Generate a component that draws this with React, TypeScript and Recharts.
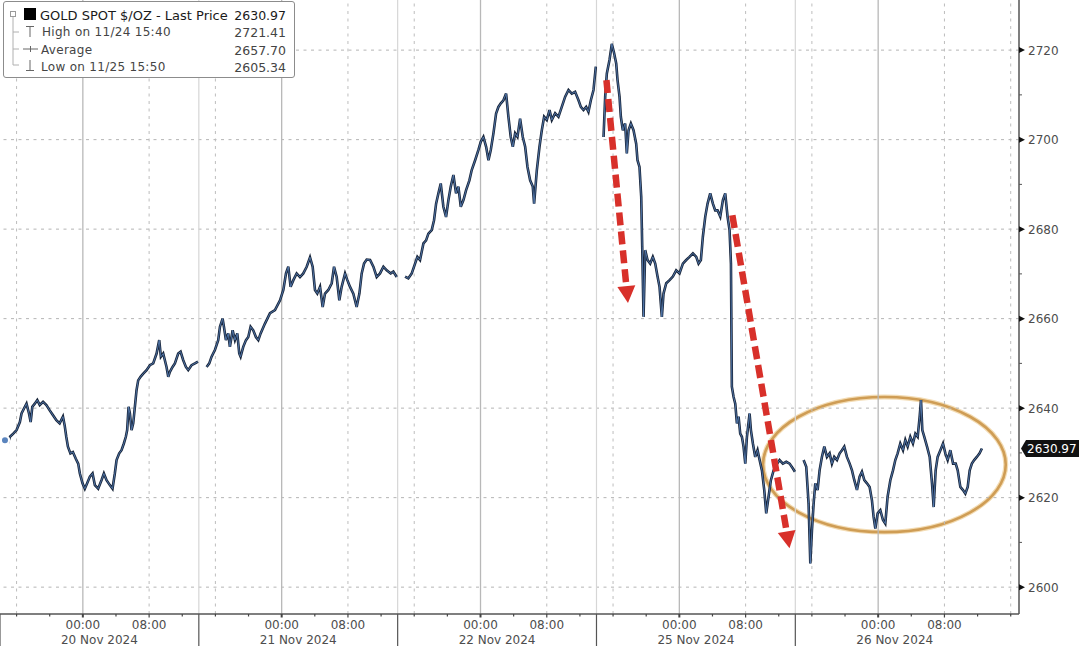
import React from 'react';
import { ComposedChart, Line, XAxis, YAxis, ReferenceLine, ReferenceArea, ReferenceDot } from 'recharts';

// ---- data: [hours from 20 Nov 00:00 on a trading-time axis (weekend removed), price] ----
const session20Nov: [number, number][] = [
  [-9.4, 2632.8], [-9.0, 2632.5], [-8.8, 2633.6], [-8.4, 2634.3], [-8.0, 2635.1], [-7.6, 2636.9],
  [-7.4, 2638.8], [-7.0, 2640.3], [-6.8, 2641.0], [-6.5, 2638.8], [-6.3, 2636.9], [-6.1, 2640.3],
  [-5.8, 2641.0], [-5.5, 2641.8], [-5.2, 2640.7], [-4.8, 2641.4], [-4.4, 2640.7], [-4.0, 2639.5],
  [-3.6, 2638.4], [-3.2, 2637.3], [-2.8, 2636.6], [-2.4, 2638.1], [-2.2, 2636.2], [-2.0, 2633.6],
  [-1.8, 2631.4], [-1.5, 2629.9], [-1.2, 2630.2], [-0.85, 2628.7], [-0.56, 2627.6], [-0.36, 2625.4],
  [-0.04, 2623.2], [0.24, 2622.0], [0.52, 2623.2], [0.85, 2624.7], [1.17, 2625.4], [1.45, 2622.8],
  [1.85, 2622.0], [2.25, 2623.9], [2.54, 2625.4], [2.86, 2623.9], [3.26, 2622.8], [3.58, 2622.0],
  [3.86, 2625.4], [4.07, 2628.4], [4.39, 2629.9], [4.67, 2630.6], [4.95, 2632.1], [5.19, 2633.6],
  [5.35, 2635.1], [5.52, 2640.3], [5.68, 2638.8], [5.88, 2635.1], [6.08, 2636.6], [6.28, 2640.3],
  [6.48, 2644.0], [6.68, 2646.2], [6.96, 2647.0], [7.29, 2647.7], [7.69, 2648.5], [8.09, 2649.6],
  [8.49, 2650.0], [8.9, 2652.2], [9.22, 2655.2], [9.42, 2651.5], [9.7, 2652.2], [10.1, 2649.2],
  [10.31, 2647.0], [10.51, 2648.1], [10.83, 2649.2], [11.11, 2650.0], [11.51, 2652.2], [11.8, 2652.6],
  [12.12, 2650.7], [12.44, 2649.2], [12.72, 2648.5], [13.12, 2649.6], [13.53, 2650.0], [13.9, 2650.4],
];
const session21Nov: [number, number][] = [
  [14.94, 2649.2], [15.26, 2650.0], [15.54, 2651.5], [15.94, 2653.0], [16.34, 2655.2], [16.55, 2658.2],
  [16.87, 2660.0], [17.03, 2658.2], [17.27, 2655.2], [17.55, 2656.7], [17.75, 2653.7], [18.08, 2657.4],
  [18.36, 2655.2], [18.64, 2656.7], [18.88, 2652.2], [19.04, 2651.5], [19.36, 2653.7], [19.69, 2655.2],
  [19.97, 2655.9], [20.25, 2658.2], [20.57, 2657.4], [20.89, 2655.9], [21.18, 2655.2], [21.46, 2656.7],
  [21.98, 2658.9], [22.59, 2661.2], [23.19, 2661.9], [23.8, 2664.1], [24.2, 2666.4], [24.52, 2670.1],
  [24.8, 2671.6], [25.08, 2667.1], [25.41, 2668.6], [25.81, 2670.1], [26.21, 2669.3], [26.61, 2670.1],
  [27.02, 2671.6], [27.42, 2673.7], [27.74, 2671.6], [28.02, 2666.4], [28.3, 2665.6], [28.63, 2667.1],
  [28.95, 2662.6], [29.23, 2665.6], [29.63, 2666.4], [30.04, 2667.9], [30.32, 2671.6], [30.64, 2669.3],
  [30.96, 2664.1], [31.24, 2667.1], [31.65, 2670.1], [31.93, 2668.6], [32.25, 2667.1], [32.65, 2665.6],
  [33.05, 2662.6], [33.38, 2665.6], [33.66, 2670.1], [33.94, 2672.3], [34.26, 2673.2], [34.67, 2673.1],
  [35.07, 2671.6], [35.47, 2669.3], [35.87, 2670.1], [36.28, 2671.6], [36.68, 2670.8], [37.16, 2670.1],
  [37.48, 2670.5], [37.89, 2669.3],
];
const session22Nov: [number, number][] = [
  [38.89, 2669.4], [39.29, 2669.0], [39.7, 2670.1], [40.1, 2672.3], [40.38, 2673.8], [40.7, 2673.1],
  [41.11, 2676.8], [41.43, 2677.5], [41.71, 2679.0], [42.11, 2679.8], [42.39, 2682.0], [42.64, 2685.7],
  [42.92, 2688.0], [43.2, 2690.2], [43.52, 2685.0], [43.84, 2682.7], [44.13, 2686.5], [44.41, 2689.5],
  [44.73, 2692.1], [45.05, 2688.0], [45.33, 2689.5], [45.62, 2685.0], [45.94, 2686.5], [46.26, 2688.7],
  [46.66, 2690.9], [46.94, 2693.2], [47.35, 2695.4], [47.75, 2697.7], [48.03, 2699.5], [48.35, 2700.6],
  [48.68, 2698.4], [48.96, 2695.4], [49.24, 2697.7], [49.56, 2701.4], [49.88, 2705.8], [50.16, 2707.3],
  [50.45, 2708.1], [50.77, 2708.8], [51.09, 2710.3], [51.37, 2705.1], [51.65, 2700.6], [51.9, 2698.4],
  [52.18, 2701.4], [52.46, 2700.6], [52.78, 2704.7], [53.1, 2700.6], [53.39, 2698.4], [53.67, 2693.9],
  [53.99, 2690.9], [54.31, 2689.5], [54.47, 2685.7], [54.8, 2693.2], [55.12, 2698.4], [55.4, 2702.1],
  [55.68, 2705.1], [56.0, 2704.4], [56.33, 2706.6], [56.61, 2704.4], [57.01, 2705.9], [57.41, 2705.1],
  [57.81, 2707.3], [58.22, 2709.6], [58.62, 2711.1], [59.02, 2710.3], [59.42, 2710.7], [59.83, 2708.8],
  [60.11, 2707.3], [60.43, 2706.6], [60.75, 2707.3], [61.03, 2706.2], [61.32, 2708.8], [61.64, 2711.1],
  [61.92, 2716.3],
];
const session25Nov: [number, number][] = [
  [62.85, 2700.6], [63.05, 2709.6], [63.25, 2714.8], [63.57, 2717.8], [63.85, 2721.4], [64.13, 2719.3],
  [64.38, 2717.0], [64.54, 2713.3], [64.78, 2709.6], [64.94, 2705.1], [65.18, 2702.1], [65.46, 2703.6],
  [65.66, 2696.9], [65.87, 2702.1], [66.15, 2703.6], [66.47, 2702.1], [66.79, 2699.1], [66.95, 2695.4],
  [67.19, 2693.9], [67.4, 2687.2], [67.52, 2676.1], [67.68, 2660.4], [67.88, 2675.3], [68.16, 2673.1],
  [68.48, 2672.3], [68.8, 2673.8], [69.09, 2672.3], [69.37, 2669.4], [69.61, 2667.1], [69.89, 2660.4],
  [70.09, 2665.6], [70.42, 2667.9], [70.82, 2668.6], [71.22, 2669.4], [71.62, 2670.8], [72.02, 2670.1],
  [72.43, 2672.3], [72.83, 2673.1], [73.23, 2673.8], [73.64, 2674.6], [74.04, 2673.8], [74.32, 2672.3],
  [74.6, 2673.1], [74.84, 2678.3], [75.13, 2682.8], [75.41, 2685.7], [75.73, 2688.0], [76.05, 2685.7],
  [76.33, 2684.2], [76.61, 2684.2], [76.94, 2682.8], [77.26, 2686.5], [77.54, 2688.0], [77.82, 2682.8],
  [78.06, 2679.8], [78.23, 2672.3], [78.34, 2644.8], [78.55, 2642.5], [78.75, 2641.0], [78.95, 2636.6],
  [79.15, 2638.1], [79.35, 2634.3], [79.55, 2633.6], [79.75, 2631.4], [79.96, 2627.6], [80.16, 2633.6],
  [80.48, 2638.8], [80.64, 2635.1], [80.88, 2632.1], [81.16, 2629.1], [81.44, 2630.6], [81.69, 2628.4],
  [81.97, 2626.1], [82.25, 2621.7], [82.49, 2616.5], [82.77, 2620.2], [83.05, 2623.9], [83.38, 2626.1],
  [83.7, 2627.3], [84.1, 2628.4], [84.5, 2627.6], [84.91, 2628.0], [85.31, 2627.6], [85.71, 2626.5],
  [85.95, 2625.8],
];
const session26Nov: [number, number][] = [
  [87.0, 2628.4], [87.32, 2626.9], [87.6, 2618.7], [87.81, 2605.3], [88.01, 2612.8], [88.21, 2618.7],
  [88.41, 2623.2], [88.69, 2621.7], [88.93, 2626.1], [89.21, 2629.1], [89.5, 2631.4], [89.82, 2629.1],
  [90.14, 2629.9], [90.42, 2627.6], [90.7, 2629.1], [91.03, 2628.4], [91.35, 2629.9], [91.63, 2630.6],
  [91.91, 2631.4], [92.23, 2629.1], [92.56, 2627.6], [92.84, 2626.1], [93.12, 2623.9], [93.44, 2621.7],
  [93.76, 2624.7], [94.04, 2625.8], [94.33, 2623.9], [94.65, 2623.2], [94.97, 2622.4], [95.25, 2619.4],
  [95.45, 2615.7], [95.66, 2613.1], [95.94, 2616.5], [96.26, 2617.2], [96.58, 2615.0], [96.86, 2614.2],
  [97.14, 2620.2], [97.47, 2623.9], [97.79, 2626.1], [98.07, 2628.4], [98.35, 2629.9], [98.67, 2632.1],
  [99.0, 2630.6], [99.28, 2632.9], [99.56, 2631.4], [99.88, 2633.6], [100.2, 2632.1], [100.49, 2634.3],
  [100.77, 2633.6], [101.01, 2638.1], [101.17, 2641.8], [101.33, 2635.1], [101.57, 2633.6], [101.9, 2631.4],
  [102.22, 2629.1], [102.5, 2623.2], [102.7, 2617.9], [102.94, 2626.1], [103.18, 2629.1], [103.51, 2630.6],
  [103.83, 2632.1], [104.11, 2629.9], [104.39, 2628.4], [104.71, 2630.6], [105.04, 2627.6], [105.36, 2627.6],
  [105.6, 2626.1], [105.92, 2622.4], [106.24, 2621.7], [106.52, 2620.9], [106.81, 2622.4], [107.05, 2626.1],
  [107.31, 2627.6], [107.59, 2628.4], [107.91, 2629.1], [108.24, 2629.9], [108.52, 2630.97],
];

const sessions = [session20Nov, session21Nov, session22Nov, session25Nov, session26Nov];
const sessionStarts = [-10, 14, 38, 62, 86];
const sessionCenters = [2, 26, 50, 74, 98];
const dayLabels = ['20 Nov 2024', '21 Nov 2024', '22 Nov 2024', '25 Nov 2024', '26 Nov 2024'];
const midnightTicks = [0, 24, 48, 72, 96];
const eightTicks = [8, 32, 56, 80, 104];
const sixteenTicks = [-8, 16, 40, 64, 88, 112];
const minorXTicks = [-8, -4, 0, 4, 8, 12, 16, 20, 24, 28, 32, 36, 40, 44, 48, 52, 56, 60, 64, 68, 72, 76, 80, 84, 88, 92, 96, 100, 104, 108, 112];
const yTicks = [2600, 2610, 2620, 2630, 2640, 2650, 2660, 2670, 2680, 2690, 2700, 2710, 2720];
const yGrid = [2600, 2620, 2640, 2660, 2680, 2700, 2720];
const lastPrice = 2630.97;
const X_DOMAIN: [number, number] = [-10, 113];
const Y_DOMAIN: [number, number] = [2594, 2731.2];

// annotations (data coordinates)
const arrowOne = [{ x: 63.2, y: 2713.3 }, { x: 65.8, y: 2663.5 }];
const arrowTwo = [{ x: 78.4, y: 2683.1 }, { x: 85.3, y: 2608.7 }];
const ellipseBox = { x1: 82.1, x2: 111.4, y1: 2612.3, y2: 2642.5 };

const legendRows = [
  { label: 'GOLD SPOT $/OZ - Last Price', value: '2630.97' },
  { label: 'High on 11/24 15:40', value: '2721.41' },
  { label: 'Average', value: '2657.70' },
  { label: 'Low on 11/25 15:50', value: '2605.34' },
];

const data: { t: number; p: number | null }[] = [];
sessions.forEach((s, i) => {
  if (i > 0) data.push({ t: sessionStarts[i], p: null });
  s.forEach(([t, p]) => data.push({ t, p }));
});

const FONT = 'DejaVu Sans, Verdana, sans-serif';
const AX_TEXT = '#4d4d4d';

const xTickValues = [...minorXTicks, ...sessionStarts, ...sessionCenters].sort((a, b) => a - b);

const XTick = (props: any) => {
  const { x, y, payload } = props;
  const v = payload.value;
  if (sessionStarts.includes(v)) {
    return <line x1={x} x2={x} y1={y} y2={y + 34} stroke="#555" strokeWidth={1.2} />;
  }
  const ci = sessionCenters.indexOf(v);
  if (ci >= 0) {
    return (
      <text x={x} y={y + 30} textAnchor="middle" fontFamily={FONT} fontSize={12} fill={AX_TEXT}>
        {dayLabels[ci]}
      </text>
    );
  }
  const isMid = midnightTicks.includes(v);
  const isEight = eightTicks.includes(v);
  return (
    <g>
      <line x1={x} x2={x} y1={y} y2={y + (isMid || isEight ? 3.5 : 2.5)} stroke="#444" strokeWidth={isMid ? 2 : 1.2} />
      {(isMid || isEight) && (
        <text x={x} y={y + 15} textAnchor="middle" fontFamily={FONT} fontSize={12} fill={AX_TEXT}>
          {isMid ? '00:00' : '08:00'}
        </text>
      )}
    </g>
  );
};

const YTick = (props: any) => {
  const { x, y, payload } = props;
  const v = payload.value;
  if (v % 20 !== 0) {
    return <line x1={x} x2={x + 3} y1={y} y2={y} stroke="#555" strokeWidth={1} />;
  }
  return (
    <g>
      <polygon points={`${x},${y - 3} ${x + 6},${y} ${x},${y + 3}`} fill="#111" />
      <text x={x + 9} y={y + 4.5} fontFamily={FONT} fontSize={12} fill={AX_TEXT}>
        {v}
      </text>
    </g>
  );
};

const arrowShape = (props: any) => {
  const { x1, y1, x2, y2 } = props;
  const dx = x2 - x1;
  const dy = y2 - y1;
  const len = Math.hypot(dx, dy) || 1;
  const ux = dx / len;
  const uy = dy / len;
  const head = 17;
  const half = 9;
  const bx = x2 - ux * head;
  const by = y2 - uy * head;
  const px = -uy;
  const py = ux;
  return (
    <g>
      <line x1={x1} y1={y1} x2={bx} y2={by} stroke="#d8302a" strokeWidth={6.5} strokeDasharray="13 6" />
      <polygon
        points={`${x2},${y2} ${bx + px * half},${by + py * half} ${bx - px * half},${by - py * half}`}
        fill="#d8302a"
      />
    </g>
  );
};

const ellipseShape = (props: any) => {
  const { x, y, width, height } = props;
  return (
    <g>
      <ellipse cx={x + width / 2} cy={y + height / 2} rx={width / 2} ry={height / 2} fill="none" stroke="#f3dcb4" strokeWidth={5} />
      <ellipse cx={x + width / 2} cy={y + height / 2} rx={width / 2} ry={height / 2} fill="none" stroke="#cf9d55" strokeWidth={2.6} />
    </g>
  );
};

const tagShape = (props: any) => {
  const { cx, cy } = props;
  const h = 17;
  const x0 = cx + 2;
  return (
    <g>
      <path
        d={`M${x0},${cy} L${x0 + 5},${cy - h / 2} L${x0 + 58},${cy - h / 2} L${x0 + 58},${cy + h / 2} L${x0 + 5},${cy + h / 2} Z`}
        fill="#111"
      />
      <text x={x0 + 6} y={cy + 4.5} fontFamily={FONT} fontSize={12} fill="#fff">
        {lastPrice.toFixed(2)}
      </text>
    </g>
  );
};

const Legend = () => (
  <div
    style={{
      position: 'absolute',
      left: 3,
      top: 1,
      width: 290,
      height: 75,
      border: '1px solid #8c8c8c',
      borderRadius: 3,
      background: '#fff',
      fontFamily: FONT,
      fontSize: 12,
      color: '#3a3a3a',
    }}
  >
    <svg width={40} height={75} style={{ position: 'absolute', left: 0, top: 0 }}>
      <rect x={6.5} y={9.5} width={5} height={5} fill="none" stroke="#9a9a9a" />
      <line x1={9} x2={9} y1={15} y2={63} stroke="#b0b0b0" />
      <line x1={9} x2={15} y1={30} y2={30} stroke="#b0b0b0" />
      <line x1={9} x2={15} y1={47} y2={47} stroke="#b0b0b0" />
      <line x1={9} x2={15} y1={63} y2={63} stroke="#b0b0b0" />
      <rect x={20} y={6} width={12} height={12} fill="#000" />
      <line x1={22} x2={30} y1={24.5} y2={24.5} stroke="#666" />
      <line x1={26} x2={26} y1={24.5} y2={35} stroke="#666" />
      <line x1={19} x2={34} y1={47} y2={47} stroke="#666" />
      <line x1={26.5} x2={26.5} y1={44} y2={50} stroke="#666" />
      <line x1={26} x2={26} y1={58} y2={68.5} stroke="#666" />
      <line x1={22} x2={30} y1={68.5} y2={68.5} stroke="#666" />
    </svg>
    {legendRows.map((r, i) => (
      <div
        key={r.label}
        style={{
          position: 'absolute',
          left: i === 0 ? 36 : i === 1 ? 38 : 37,
          right: 8,
          top: 4.5 + i * 17.5,
          height: 17,
          lineHeight: '17px',
          display: 'flex',
          justifyContent: 'space-between',
          color: i === 0 ? '#1a1a1a' : '#444',
          whiteSpace: 'nowrap',
        }}
      >
        <span style={{ fontSize: i === 0 ? 13 : 12, letterSpacing: i === 0 ? 0 : 0.3 }}>{r.label}</span>
        <span style={{ fontSize: 12.5 }}>{r.value}</span>
      </div>
    ))}
  </div>
);

export default function App() {
  return (
    <div style={{ position: 'absolute', left: 0, top: 0, width: 1080, height: 646, background: '#fff', overflow: 'hidden' }}>
      <ComposedChart width={1080} height={646} data={data} margin={{ top: 0, right: 0, bottom: 0, left: 0 }}>
        <XAxis
          dataKey="t"
          type="number"
          domain={X_DOMAIN}
          allowDataOverflow
          ticks={xTickValues}
          interval={0}
          tick={<XTick />}
          tickLine={false}
          tickSize={0}
          tickMargin={0}
          axisLine={{ stroke: '#555', strokeWidth: 1.5 }}
          height={32}
        />
        <YAxis
          orientation="right"
          type="number"
          domain={Y_DOMAIN}
          allowDataOverflow
          ticks={yTicks}
          interval={0}
          tick={<YTick />}
          tickLine={false}
          tickSize={0}
          tickMargin={0}
          axisLine={{ stroke: '#555', strokeWidth: 1.5 }}
          width={61}
        />
        {yGrid.map((v) => (
          <ReferenceLine key={'h' + v} y={v} stroke="#b4b4b4" strokeDasharray="3 4.5" />
        ))}
        {sessionStarts.slice(1).map((v) => (
          <ReferenceLine key={'s' + v} x={v} stroke="#d6d6d6" strokeWidth={1.2} />
        ))}
        {midnightTicks.map((v) => (
          <ReferenceLine key={'m' + v} x={v} stroke="#b8b8b8" strokeWidth={1.3} />
        ))}
        {[...eightTicks, ...sixteenTicks].map((v) => (
          <ReferenceLine key={'d' + v} x={v} stroke="#bdbdbd" strokeDasharray="3 4.5" />
        ))}
        <Line
          dataKey="p"
          type="linear"
          stroke="#18253a"
          strokeWidth={2.6}
          dot={false}
          connectNulls={false}
          isAnimationActive={false}
        />
        <Line
          dataKey="p"
          type="linear"
          stroke="#5a84bd"
          strokeWidth={0.8}
          dot={false}
          connectNulls={false}
          isAnimationActive={false}
        />
        <ReferenceArea
          x1={ellipseBox.x1}
          x2={ellipseBox.x2}
          y1={ellipseBox.y1}
          y2={ellipseBox.y2}
          shape={ellipseShape}
        />
        <ReferenceLine segment={arrowOne} shape={arrowShape} />
        <ReferenceLine segment={arrowTwo} shape={arrowShape} />
        <ReferenceDot x={X_DOMAIN[1]} y={lastPrice} shape={tagShape} />
      </ComposedChart>
      <Legend />
    </div>
  );
}
